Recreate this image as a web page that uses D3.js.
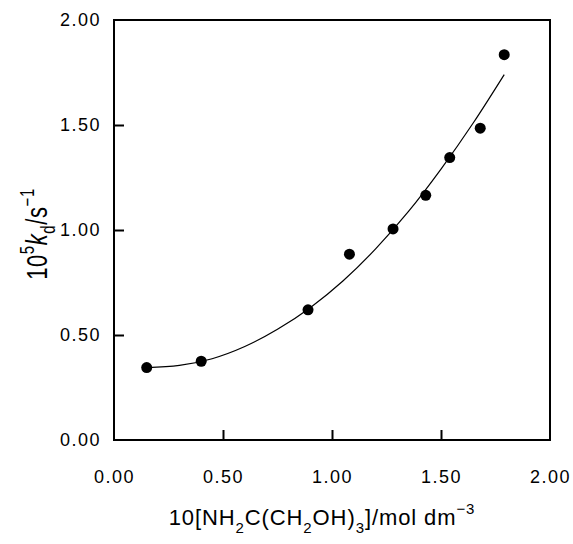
<!DOCTYPE html>
<html>
<head>
<meta charset="utf-8">
<script src="https://cdn.jsdelivr.net/npm/d3@7"></script>
<style>
  body { margin: 0; background: #fff; }
  text { font-family: "Liberation Sans", Arial, sans-serif; fill: #000; }
</style>
</head>
<body>
<div id="chart"></div>
<script>
// measured points
var pointX = [0.15, 0.40, 0.89, 1.08, 1.28, 1.43, 1.54, 1.68, 1.79]
, pointY = [0.345, 0.375, 0.62, 0.885, 1.005, 1.165, 1.345, 1.485, 1.835]

// fitted curve
, curveX = [0.15, 0.30, 0.45, 0.60, 0.75, 0.90, 1.05, 1.20, 1.35, 1.50, 1.65, 1.79]
, curveY = [0.345, 0.355, 0.387, 0.445, 0.527, 0.63, 0.757, 0.91, 1.087, 1.29, 1.513, 1.74]

, xTicks = [0, 0.5, 1, 1.5, 2]
, yTicks = [0, 0.5, 1, 1.5, 2];

var w = 573
, h = 544
, plotLeft = 114
, plotRight = 550
, plotTop = 20
, plotBottom = 440
, svg
, x
, y;

svg = d3.select("#chart")
	.append("svg")
	.attr("width", w)
	.attr("height", h);

x = d3.scaleLinear().domain([0, 2]).range([plotLeft, plotRight]);
y = d3.scaleLinear().domain([0, 2]).range([plotBottom, plotTop]);

// frame
svg.append("rect")
	.attr("x", plotLeft)
	.attr("y", plotTop)
	.attr("width", plotRight - plotLeft)
	.attr("height", plotBottom - plotTop)
	.attr("fill", "none")
	.attr("stroke", "#000")
	.attr("stroke-width", 2);

// axes, ticks pointing inward
var xAxis = svg.append("g")
	.attr("transform", "translate(0," + plotBottom + ")")
	.call(d3.axisBottom(x).tickValues(xTicks).tickSizeInner(-10).tickSizeOuter(0).tickPadding(30).tickFormat(d3.format(".2f")));

var yAxis = svg.append("g")
	.attr("transform", "translate(" + plotLeft + ",0)")
	.call(d3.axisLeft(y).tickValues(yTicks).tickSizeInner(-10).tickSizeOuter(0).tickPadding(13).tickFormat(d3.format(".2f")));

[xAxis, yAxis].forEach(function(a) {
	a.select(".domain").remove();
	a.selectAll(".tick line").attr("stroke", "#000").attr("stroke-width", 2);
	a.selectAll(".tick text")
		.style("font-family", "'Liberation Sans', Arial, sans-serif")
		.style("font-size", "18px")
		.style("letter-spacing", "1.5px")
		.attr("fill", "#000");
});
// ticks at the frame ends are hidden by the frame anyway
xAxis.selectAll(".tick line").filter(function(d) { return d === 0 || d === 2; }).remove();
yAxis.selectAll(".tick line").filter(function(d) { return d === 0 || d === 2; }).remove();

// fitted curve
var line = d3.line()
	.x(function(d) { return x(d[0]); })
	.y(function(d) { return y(d[1]); })
	.curve(d3.curveMonotoneX);

svg.append("path")
	.datum(d3.zip(curveX, curveY))
	.attr("d", line)
	.attr("fill", "none")
	.attr("stroke", "#000")
	.attr("stroke-width", 1.2);

// data points
svg.selectAll("circle.pt")
	.data(d3.zip(pointX, pointY))
	.enter()
	.append("circle")
	.attr("class", "pt")
	.attr("cx", function(d) { return x(d[0]); })
	.attr("cy", function(d) { return y(d[1]); })
	.attr("r", 5.5)
	.attr("fill", "#000");

// x title
var xt = svg.append("text")
	.attr("x", 322)
	.attr("y", 525)
	.attr("text-anchor", "middle")
	.style("font-size", "22px")
	.style("letter-spacing", "0.9px");
xt.append("tspan").text("10[NH");
xt.append("tspan").attr("dy", 8).style("font-size", "15px").text("2");
xt.append("tspan").attr("dy", -8).text("C(CH");
xt.append("tspan").attr("dy", 8).style("font-size", "15px").text("2");
xt.append("tspan").attr("dy", -8).text("OH)");
xt.append("tspan").attr("dy", 8).style("font-size", "15px").text("3");
xt.append("tspan").attr("dy", -8).text("]/mol dm");
xt.append("tspan").attr("dy", -11).style("font-size", "15px").text("\u22123");

// y title (the original glyphs are drawn a bit taller than wide)
var yt = svg.append("text")
	.attr("transform", "translate(47,234) rotate(-90) scale(1,1.3)")
	.attr("text-anchor", "middle")
	.style("font-size", "22px")
	.style("letter-spacing", "0.6px");
yt.append("tspan").text("10");
yt.append("tspan").attr("dy", -10).style("font-size", "15px").text("5");
yt.append("tspan").attr("dy", 10).style("font-style", "italic").text("k");
yt.append("tspan").attr("dy", 6).style("font-size", "15px").text("d");
yt.append("tspan").attr("dy", -6).text("/s");
yt.append("tspan").attr("dy", -10).style("font-size", "15px").text("\u22121");
</script>
</body>
</html>
